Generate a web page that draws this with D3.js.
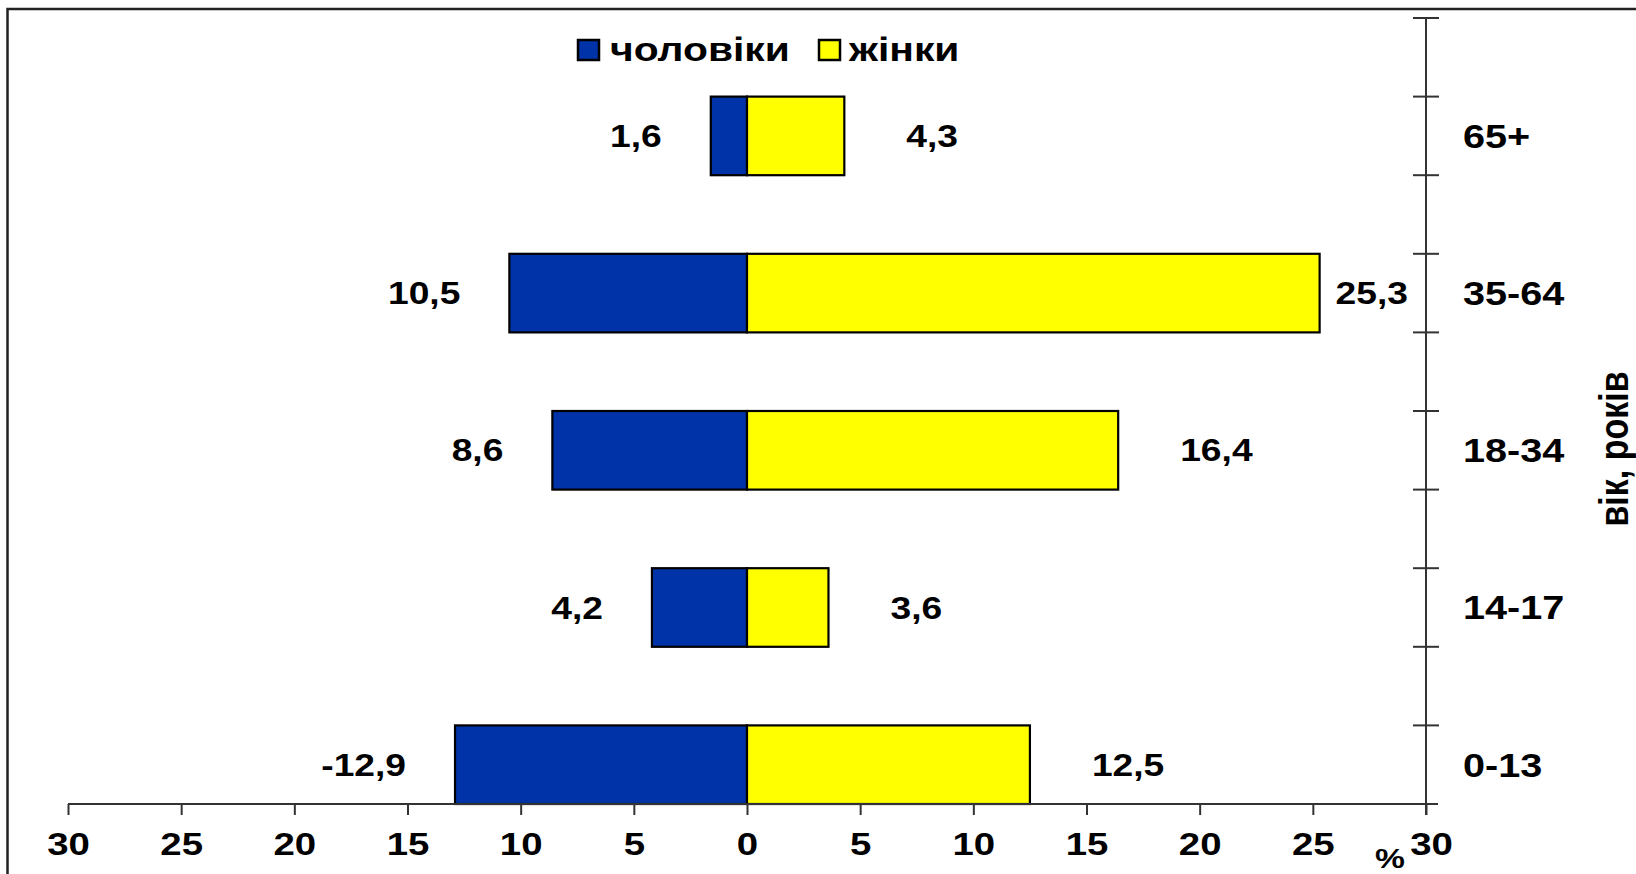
<!DOCTYPE html>
<html>
<head>
<meta charset="utf-8">
<script src="https://cdn.jsdelivr.net/npm/d3@7"></script>
<style>
  body { margin: 0; background: #fff; }
  text { font-family: "Liberation Sans", Arial, sans-serif; font-weight: bold; fill: #000; }
</style>
</head>
<body>
<script>
var categories = ["0-13", "14-17", "18-34", "35-64", "65+"];
var maleValues = [12.9, 4.2, 8.6, 10.5, 1.6];
var femaleValues = [12.5, 3.6, 16.4, 25.3, 4.3];
var maleLabels = ["-12,9", "4,2", "8,6", "10,5", "1,6"];
var femaleLabels = ["12,5", "3,6", "16,4", "25,3", "4,3"];
var seriesNames = ["чоловіки", "жінки"];
var xTicks = [-30, -25, -20, -15, -10, -5, 0, 5, 10, 15, 20, 25, 30];

var chartWidth = 1636;
var chartHeight = 874;
var maleColor = "#0033a8";
var femaleColor = "#ffff00";
var stretch = "scale(1.2,1)";

var svg = d3.select("body")
            .append("svg")
            .attr("width", chartWidth)
            .attr("height", chartHeight);

svg.append("rect")
   .attr("width", chartWidth)
   .attr("height", chartHeight)
   .attr("fill", "#fff");

// outer frame (only top and left visible)
svg.append("rect")
   .attr("x", 7.5)
   .attr("y", 9)
   .attr("width", 1800)
   .attr("height", 1000)
   .attr("fill", "none")
   .attr("stroke", "#222")
   .attr("stroke-width", 2.5);

var xScale = d3.scaleLinear()
               .domain([-30, 30])
               .range([68, 1426]);

var yScale = d3.scaleBand()
               .domain(categories.slice().reverse())
               .range([18, 804])
               .padding(0);

var bw = yScale.bandwidth();
var axisY = 804;
var axisX = xScale(30);

// bars
var rows = categories.map(function(c, i) {
  return {cat: c, m: maleValues[i], f: femaleValues[i], ml: maleLabels[i], fl: femaleLabels[i]};
});

var barGroup = svg.append("g");

barGroup.selectAll("rect.male")
        .data(rows)
        .enter()
        .append("rect")
        .attr("class", "male")
        .attr("x", function(d) { return xScale(-d.m); })
        .attr("y", function(d) { return yScale(d.cat) + bw / 2; })
        .attr("width", function(d) { return xScale(0) - xScale(-d.m); })
        .attr("height", bw / 2)
        .attr("fill", maleColor)
        .attr("stroke", "#000")
        .attr("stroke-width", 2.2);

barGroup.selectAll("rect.female")
        .data(rows)
        .enter()
        .append("rect")
        .attr("class", "female")
        .attr("x", xScale(0))
        .attr("y", function(d) { return yScale(d.cat) + bw / 2; })
        .attr("width", function(d) { return xScale(d.f) - xScale(0); })
        .attr("height", bw / 2)
        .attr("fill", femaleColor)
        .attr("stroke", "#000")
        .attr("stroke-width", 2.2);

// data labels
barGroup.selectAll("text.mlabel")
        .data(rows)
        .enter()
        .append("text")
        .attr("class", "mlabel")
        .attr("text-anchor", "end")
        .attr("font-size", 31)
        .attr("dy", "0.36em")
        .attr("transform", function(d) {
          return "translate(" + (xScale(-d.m) - 49) + "," + (yScale(d.cat) + bw * 0.75) + ") " + stretch;
        })
        .text(function(d) { return d.ml; });

barGroup.selectAll("text.flabel")
        .data(rows)
        .enter()
        .append("text")
        .attr("class", "flabel")
        .attr("text-anchor", "start")
        .attr("font-size", 31)
        .attr("dy", "0.36em")
        .text(function(d) { return d.fl; })
        .attr("transform", function(d) {
          var w = this.getComputedTextLength() * 1.2;
          var x = xScale(d.f) + 62;
          if (x + w > axisX - 18) x = axisX - 18 - w;
          return "translate(" + x + "," + (yScale(d.cat) + bw * 0.75) + ") " + stretch;
        });

// bottom axis
var xAxis = svg.append("g")
               .attr("transform", "translate(0," + axisY + ")")
               .call(d3.axisBottom(xScale)
                       .tickValues(xTicks)
                       .tickSize(11)
                       .tickSizeOuter(0)
                       .tickFormat(function(d) { return Math.abs(d); }));

xAxis.select(".domain").remove();
xAxis.selectAll(".tick line")
     .attr("stroke", "#333")
     .attr("stroke-width", 2);
xAxis.selectAll(".tick text")
     .attr("font-family", "Liberation Sans, Arial, sans-serif")
     .attr("font-weight", "bold")
     .attr("font-size", 32)
     .attr("fill", "#000")
     .attr("y", 28)
     .attr("transform", function(d) { return d === 30 ? "translate(5,0) " + stretch : stretch; });

svg.append("line")
   .attr("x1", xScale(-30))
   .attr("x2", axisX + 12)
   .attr("y1", axisY)
   .attr("y2", axisY)
   .attr("stroke", "#333")
   .attr("stroke-width", 2);

svg.append("text")
   .attr("text-anchor", "middle")
   .attr("font-size", 28)
   .attr("transform", "translate(" + (axisX - 36) + "," + 868 + ") " + stretch)
   .text("%");

// right category axis
svg.append("line")
   .attr("x1", axisX)
   .attr("x2", axisX)
   .attr("y1", 18)
   .attr("y2", axisY + 11)
   .attr("stroke", "#333")
   .attr("stroke-width", 2);

var yTicks = [];
categories.forEach(function(c) {
  yTicks.push(yScale(c));
  yTicks.push(yScale(c) + bw / 2);
});

svg.selectAll("line.ytick")
   .data(yTicks)
   .enter()
   .append("line")
   .attr("class", "ytick")
   .attr("x1", axisX - 13)
   .attr("x2", axisX + 13)
   .attr("y1", function(d) { return d; })
   .attr("y2", function(d) { return d; })
   .attr("stroke", "#333")
   .attr("stroke-width", 2);

svg.selectAll("text.cat")
   .data(categories)
   .enter()
   .append("text")
   .attr("class", "cat")
   .attr("font-size", 33)
   .attr("dy", "0.36em")
   .attr("transform", function(d) {
     return "translate(" + 1463 + "," + (yScale(d) + bw * 0.75) + ") " + stretch;
   })
   .text(function(d) { return d; });

svg.append("text")
   .attr("text-anchor", "middle")
   .attr("font-size", 34)
   .attr("dy", "0.36em")
   .attr("transform", "translate(1613,449) rotate(-90) scale(1,1.2)")
   .text("вік, років");

// legend
var legendItems = [
  {name: seriesNames[0], color: maleColor, x: 578, tx: 610},
  {name: seriesNames[1], color: femaleColor, x: 819, tx: 849}
];

var legend = svg.append("g");
legend.selectAll("rect")
      .data(legendItems)
      .enter()
      .append("rect")
      .attr("x", function(d) { return d.x; })
      .attr("y", 40)
      .attr("width", 21)
      .attr("height", 20)
      .attr("fill", function(d) { return d.color; })
      .attr("stroke", "#000")
      .attr("stroke-width", 2.5);

legend.selectAll("text")
      .data(legendItems)
      .enter()
      .append("text")
      .attr("font-size", 34)
      .attr("transform", function(d) { return "translate(" + d.tx + ",61) " + stretch; })
      .text(function(d) { return d.name; });
</script>
</body>
</html>
